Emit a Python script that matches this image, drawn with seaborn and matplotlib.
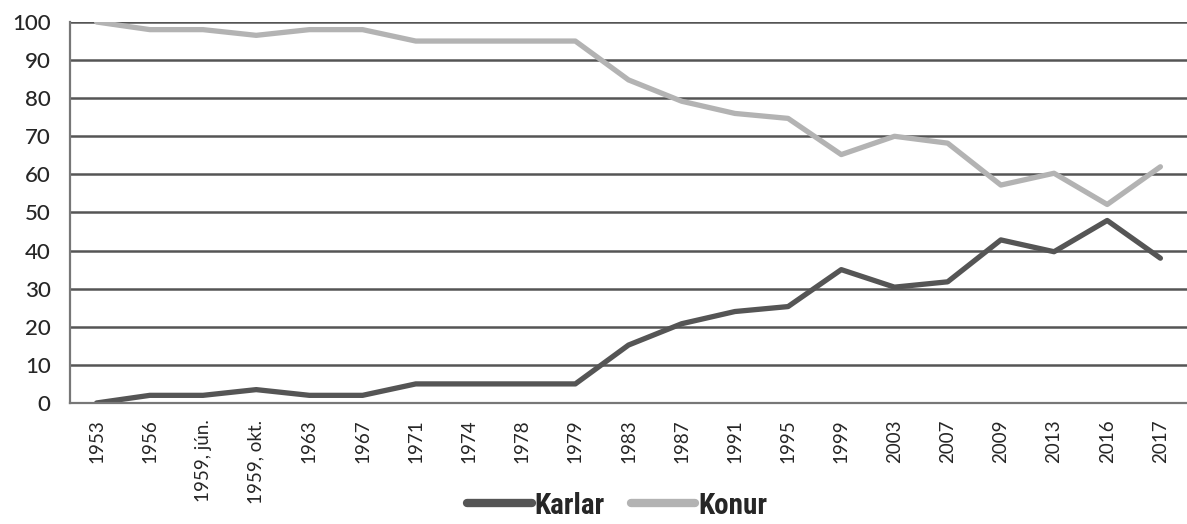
import numpy as np
import pandas as pd
import seaborn as sns
import matplotlib.pyplot as plt

years = ['1953', '1956', '1959, jún.', '1959, okt.', '1963', '1967', '1971', '1974',
         '1978', '1979', '1983', '1987', '1991', '1995', '1999', '2003', '2007',
         '2009', '2013', '2016', '2017']
karlar = [0, 2, 2, 3.5, 2, 2, 5, 5, 5, 5, 15.2, 20.8, 24, 25.3, 35, 30.4, 31.8,
          42.8, 39.7, 47.9, 38]
konur = [100, 98, 98, 96.5, 98, 98, 95, 95, 95, 95, 84.8, 79.2, 76, 74.7, 65.2,
         70, 68.2, 57.2, 60.3, 52.1, 62]

pos = np.arange(len(years))
df = pd.DataFrame({'pos': np.concatenate([pos, pos]),
                   'hlutfall': karlar + konur,
                   'kyn': ['Karlar'] * len(years) + ['Konur'] * len(years)})

sns.set_style('white')
plt.rcParams['font.family'] = ['Lato', 'DejaVu Sans']

fig = plt.figure(figsize=(11.87, 5.24), dpi=100)
ax = fig.add_axes([0.059, 0.231, 0.941, 0.727])

# gridlines
for v in range(10, 101, 10):
    ax.axhline(v, color='#555555', lw=1.8, zorder=1)

sns.lineplot(data=df, x='pos', y='hlutfall', hue='kyn',
             palette={'Karlar': '#555555', 'Konur': '#b3b3b3'},
             linewidth=3.8, sort=False, ax=ax, zorder=3, legend=False)

ax.set_xlim(-0.5, len(years) - 0.5)
ax.set_ylim(0, 100)
ax.set_yticks(range(0, 101, 10))
ax.set_xticks(pos)
ax.set_xticklabels(years, rotation=90, fontsize=13.5)
ax.set_xticks(np.arange(-0.5, len(years), 1), minor=True)
ax.tick_params(axis='x', which='major', length=0, pad=12)
ax.tick_params(axis='x', which='minor', length=6, width=1.4, color='#777777', direction='out')
ax.tick_params(axis='y', length=6, width=1.4, color='#777777', direction='out',
               labelsize=16, pad=8)
for lab in ax.get_yticklabels():
    lab.set_fontweight('medium')
ax.set_xlabel('')
ax.set_ylabel('')

for s in ['top', 'right']:
    ax.spines[s].set_visible(False)
ax.spines['left'].set_color('#777777')
ax.spines['bottom'].set_color('#777777')
ax.spines['left'].set_linewidth(1.6)
ax.spines['bottom'].set_linewidth(1.6)
ax.spines['bottom'].set_zorder(4)

h1, = ax.plot([], [], color='#555555', lw=6)
h2, = ax.plot([], [], color='#b3b3b3', lw=6)
fig.legend([h1, h2], ['Karlar', 'Konur'], loc='center', bbox_to_anchor=(0.52, 0.035),
           ncol=2, frameon=False, handlelength=2.2, handletextpad=0.1,
           columnspacing=0.9, prop={'family': ['Roboto Condensed', 'Roboto', 'DejaVu Sans'],
                                    'weight': 'bold', 'size': 21})

fig.savefig('out.png', dpi=100)
